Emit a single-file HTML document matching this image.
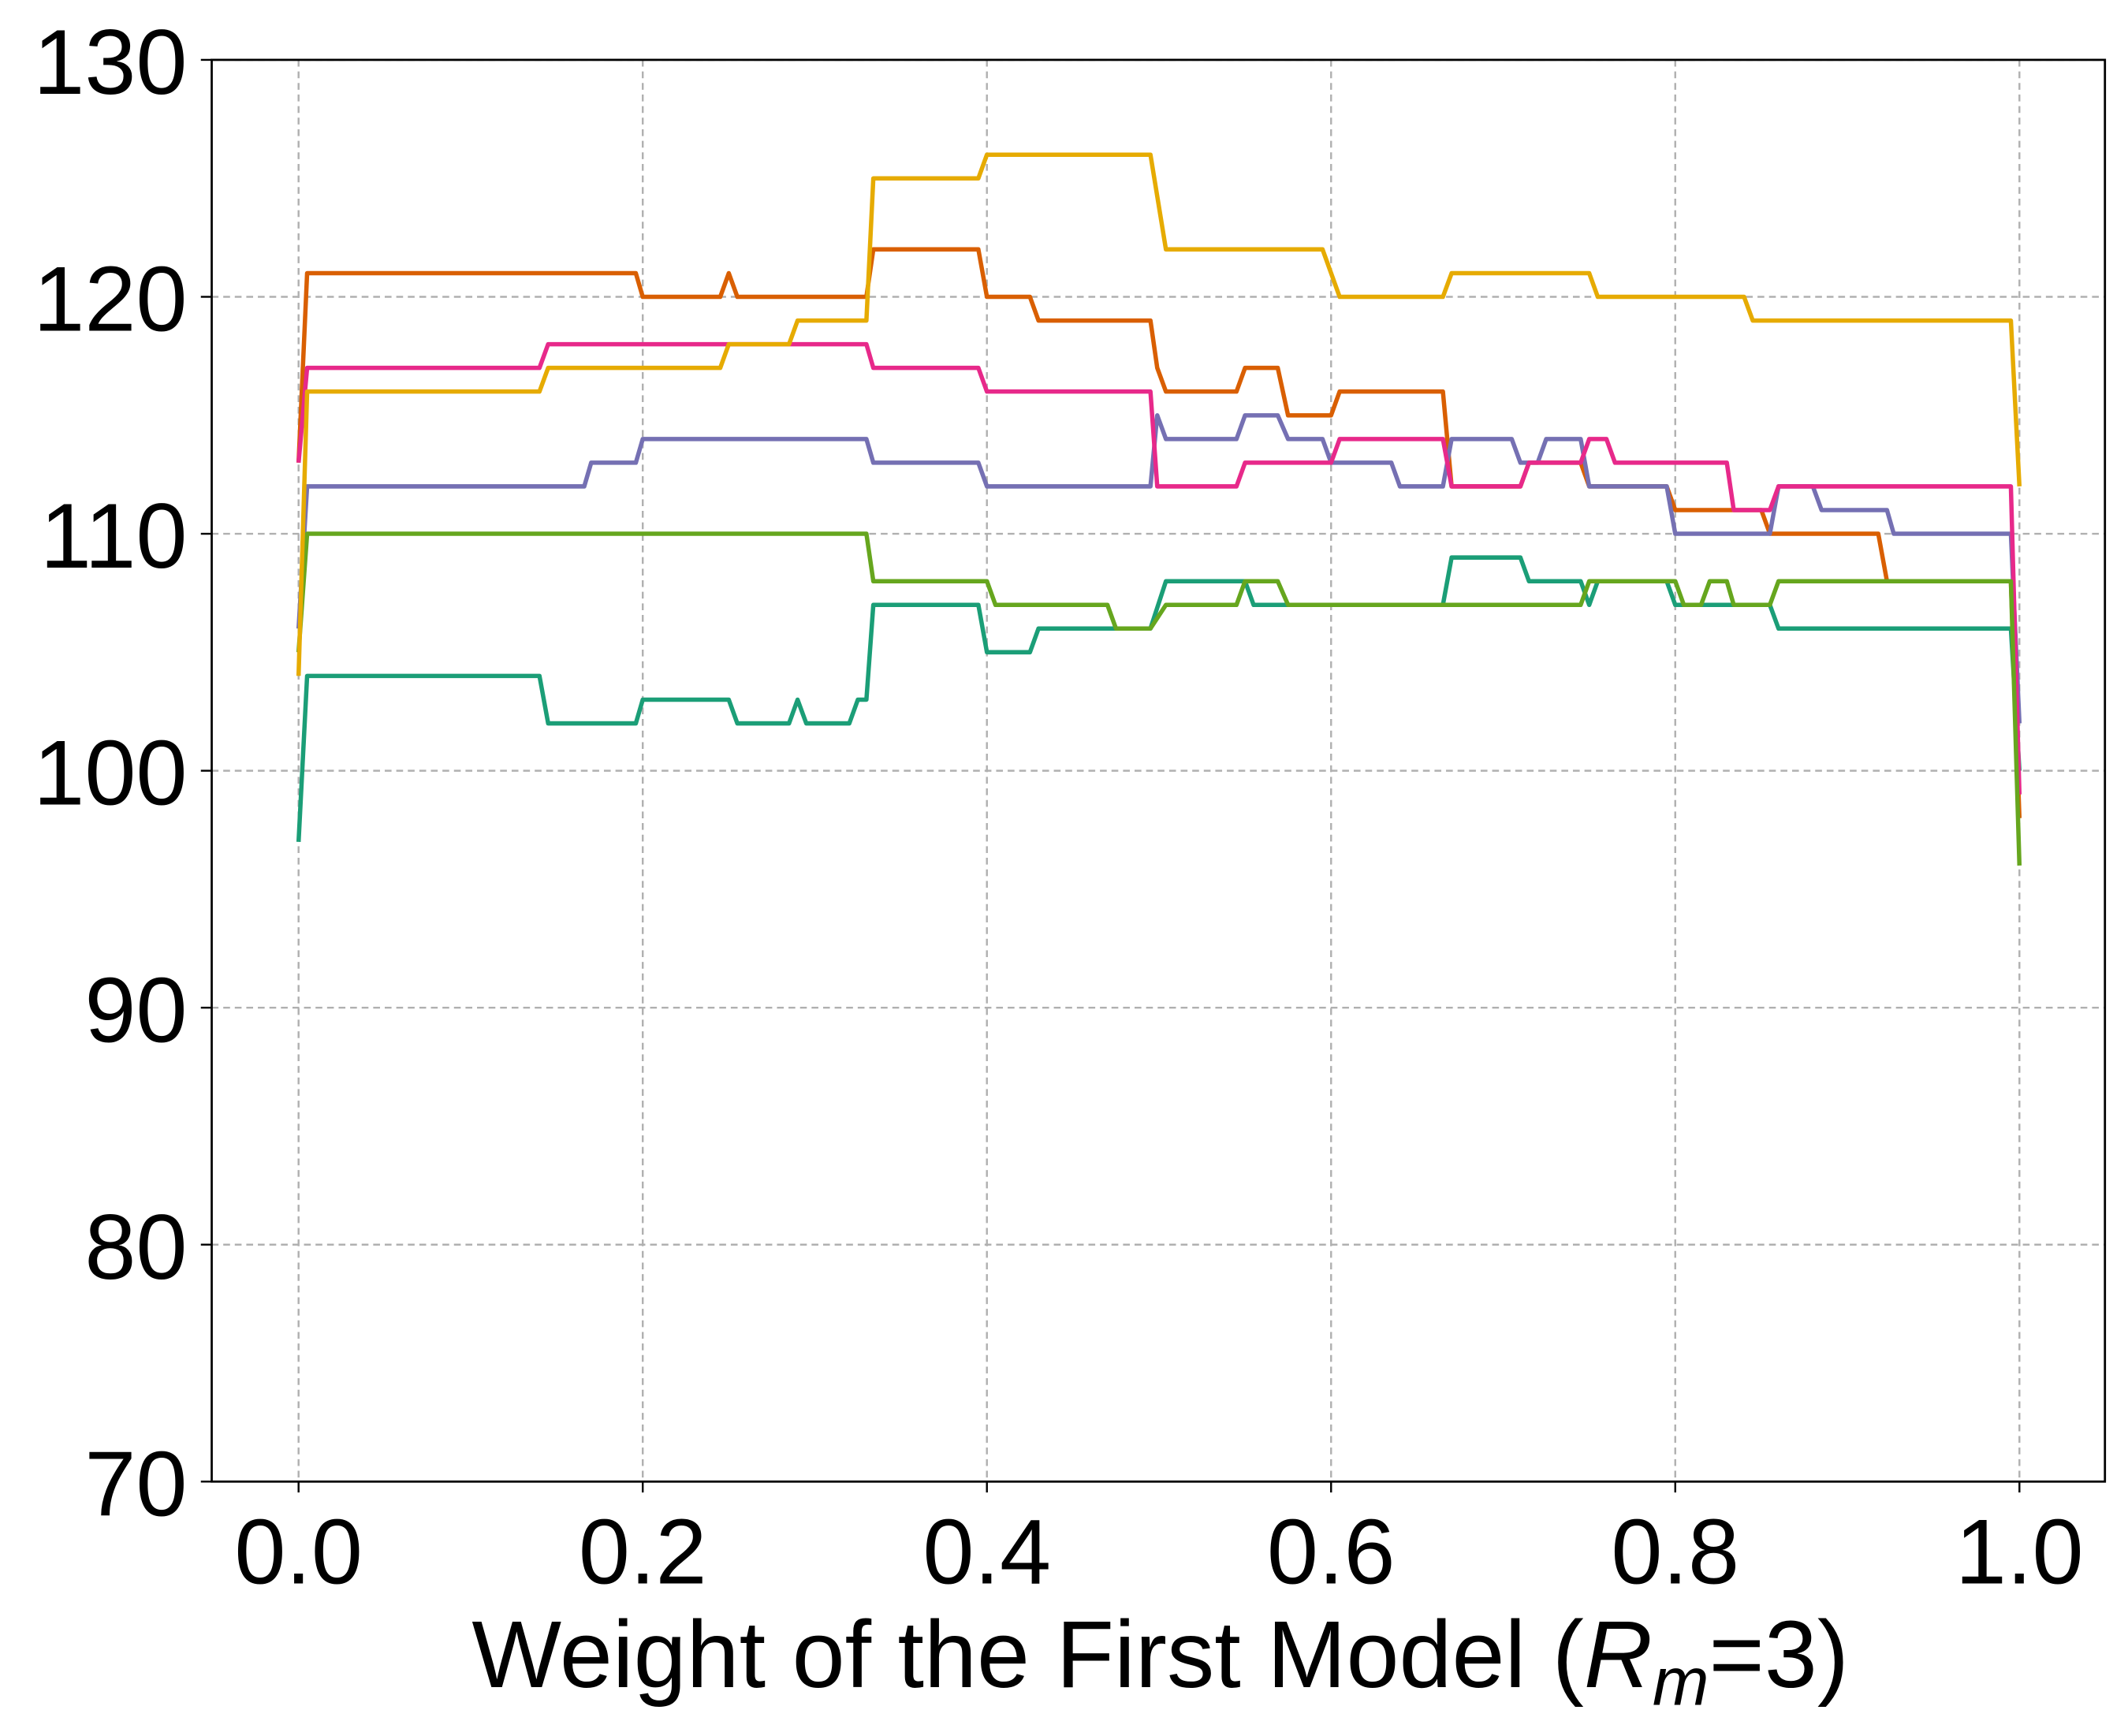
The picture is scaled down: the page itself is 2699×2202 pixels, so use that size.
<!DOCTYPE html>
<html><head><meta charset="utf-8"><style>
html,body{margin:0;padding:0;background:#fff}
svg{display:block}
text{font-family:"Liberation Sans",sans-serif;fill:#000}
</style></head><body>
<svg id="chart" width="2699" height="2202" viewBox="0 0 1568 1276" preserveAspectRatio="none" xmlns="http://www.w3.org/2000/svg">
<g id="grid"></g>
<g id="series"></g>
<rect x="156" y="44" width="1395" height="1045" fill="none" stroke="#000" stroke-width="1.6"/>
<g id="ticks"></g>
<text x="855" y="1240" text-anchor="middle" font-size="70">Weight of the First Model (<tspan font-style="italic">R</tspan><tspan font-style="italic" font-size="50" dy="13">m</tspan><tspan dy="-13">=3)</tspan></text>
</svg>
<script>
const xTicks=[0,0.2,0.4,0.6,0.8,1.0];
const xTickLabels=["0.0","0.2","0.4","0.6","0.8","1.0"];
const yTicks=[70,80,90,100,110,120,130];
const yTickLabels=["70","80","90","100","110","120","130"];
const seriesNames=["teal","orange","purple","pink","green","yellow"];
const seriesColors=["#1b9e77","#d95f02","#7570b3","#e7298a","#66a61e","#e6ab02"];
const tealX=[0,0.005,0.14,0.145,0.196,0.2,0.25,0.255,0.285,0.29,0.295,0.32,0.325,0.33,0.334,0.395,0.4,0.425,0.43,0.495,0.504,0.55,0.555,0.665,0.67,0.71,0.715,0.745,0.75,0.755,0.795,0.8,0.855,0.86,0.995,1.0];
const tealY=[97,104,104,102,102,103,103,102,102,103,102,102,103,103,107,107,105,105,106,106,108,108,107,107,109,109,108,108,107,108,108,107,107,106,106,100];
const orangeX=[0,0.005,0.196,0.2,0.245,0.25,0.255,0.33,0.334,0.395,0.4,0.425,0.43,0.495,0.499,0.504,0.545,0.55,0.569,0.575,0.6,0.605,0.665,0.67,0.71,0.715,0.745,0.75,0.795,0.8,0.85,0.855,0.918,0.923,0.995,1.0];
const orangeY=[113,121,121,120,120,121,120,120,122,122,120,120,119,119,117,116,116,117,117,115,115,116,116,112,112,113,113,112,112,111,111,110,110,108,108,98];
const purpleX=[0,0.005,0.166,0.17,0.196,0.2,0.33,0.334,0.395,0.4,0.495,0.499,0.504,0.545,0.55,0.569,0.575,0.595,0.6,0.635,0.64,0.665,0.67,0.705,0.71,0.72,0.725,0.745,0.75,0.795,0.8,0.855,0.86,0.88,0.885,0.923,0.927,0.995,1.0];
const purpleY=[106,112,112,113,113,114,114,113,113,112,112,115,114,114,115,115,114,114,113,113,112,112,114,114,113,113,114,114,112,112,110,110,112,112,111,111,110,110,102];
const pinkX=[0,0.005,0.14,0.145,0.33,0.334,0.395,0.4,0.495,0.499,0.545,0.55,0.6,0.605,0.665,0.67,0.71,0.715,0.745,0.75,0.76,0.765,0.83,0.834,0.855,0.86,0.995,1.0];
const pinkY=[113,117,117,118,118,117,117,116,116,112,112,113,113,114,114,112,112,113,113,114,114,113,113,111,111,112,112,99];
const greenX=[0,0.005,0.33,0.334,0.4,0.405,0.47,0.475,0.495,0.504,0.545,0.55,0.569,0.575,0.745,0.75,0.8,0.805,0.815,0.82,0.83,0.834,0.855,0.86,0.995,1.0];
const greenY=[105,110,110,108,108,107,107,106,106,107,107,108,108,107,107,108,108,107,107,108,108,107,107,108,108,96];
const yellowX=[0,0.005,0.14,0.145,0.245,0.25,0.285,0.29,0.33,0.334,0.395,0.4,0.495,0.504,0.595,0.605,0.665,0.67,0.75,0.755,0.84,0.845,0.995,1.0];
const yellowY=[104,116,116,117,117,118,118,119,119,125,125,126,126,122,122,120,120,121,121,120,120,119,119,112];
const allX=[tealX,orangeX,purpleX,pinkX,greenX,yellowX];
const allY=[tealY,orangeY,purpleY,pinkY,greenY,yellowY];

const NS="http://www.w3.org/2000/svg";
function sx(v){return 220+(1488-220)*v;}
function sy(v){return 1089-(1089-44)*(v-70)/60;}
const grid=document.getElementById('grid'),ticks=document.getElementById('ticks'),sg=document.getElementById('series');
function mk(tag,attrs,parent){const e=document.createElementNS(NS,tag);for(const k in attrs)e.setAttribute(k,attrs[k]);parent.appendChild(e);return e;}
xTicks.forEach((v,i)=>{
  const g=mk('line',{x1:sx(v),x2:sx(v),y1:44,y2:1089,stroke:'#b0b0b0','stroke-width':1.4,'stroke-dasharray':'5,3.5'},grid);
  
  
  const t=mk('line',{x1:sx(v),x2:sx(v),y1:1089,y2:1097,stroke:'#000','stroke-width':1.4},ticks);
  
  
  const l=mk('text',{x:sx(v),y:1164,'text-anchor':'middle','font-size':'68'},ticks);
  l.textContent=xTickLabels[i];
  
  
});
yTicks.forEach((v,i)=>{
  const g=mk('line',{x1:156,x2:1551,y1:sy(v),y2:sy(v),stroke:'#b0b0b0','stroke-width':1.4,'stroke-dasharray':'5,3.5'},grid);
  
  
  const t=mk('line',{x1:148,x2:156,y1:sy(v),y2:sy(v),stroke:'#000','stroke-width':1.4},ticks);
  
  
  const l=mk('text',{x:138,y:sy(v)+25,'text-anchor':'end','font-size':'68'},ticks);
  l.textContent=yTickLabels[i];
  
  
});
allX.forEach((xs,si)=>{
  const d=xs.map((x,i)=>(i?'L':'M')+sx(x).toFixed(1)+','+sy(allY[si][i]).toFixed(1)).join(' ');
  const p=mk('path',{d:d,fill:'none',stroke:seriesColors[si],'stroke-width':3.2,'stroke-linejoin':'round'},sg);
  
  
});
</script>
</body></html>
